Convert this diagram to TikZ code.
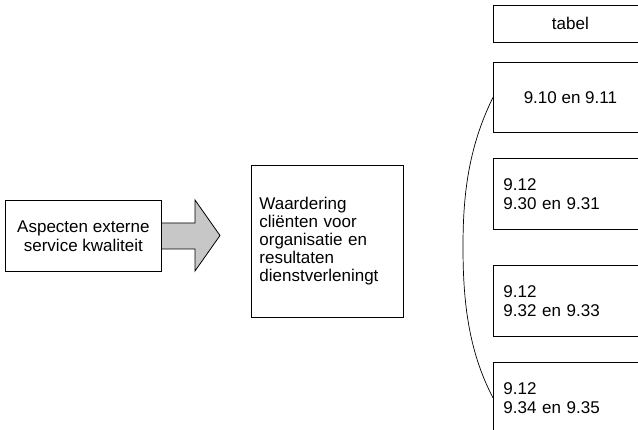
\documentclass[tikz,border=0pt]{standalone}
\usepackage{fontspec}
\setmainfont{Liberation Sans}
\begin{document}
\begin{tikzpicture}[x=1pt,y=-1pt,
  box/.style={draw=black, line width=0.8pt, inner sep=0pt, fill=white, anchor=north west},
  lbl/.style={font=\fontsize{17}{19}\selectfont},
  tablebox/.style={box, lbl, minimum width=154pt},
  leftbox/.style={tablebox, minimum height=71pt, align=left, text width=134pt, inner xsep=10pt},
  arrowfill/.style={draw=black, line width=0.8pt, fill=black!22, line join=miter},
]
\useasboundingbox (0,0) rectangle (638,430);

% input aspect and the big arrow pointing to the appreciation box
\draw[arrowfill] (161,223) -- (195,223) -- (195,200) -- (220,235.5)
  -- (195,271) -- (195,249) -- (161,249) -- cycle;
\node[box, lbl, minimum width=156pt, minimum height=71pt, align=center]
  (aspect) at (5,200) {Aspecten externe\\service kwaliteit};

% central box
\node[box, lbl, minimum width=152pt, minimum height=152pt, align=left,
  text width=136pt, inner xsep=8pt, font=\fontsize{17}{18}\selectfont]
  (waard) at (251,165)
  {Waardering\\cliënten voor\\organisatie en\\resultaten\\dienstverleningt};

% table column: only the text nodes, the frames are open to the right
\node[tablebox, draw=none, minimum height=37pt, align=center] (tabel) at (493,5) {tabel};
\node[tablebox, draw=none, minimum height=70pt, align=center] (b910) at (493,62) {9.10 en 9.11};
\node[leftbox, draw=none] (b930) at (493,158) {9.12\\9.30 en 9.31};
\node[leftbox, draw=none] (b932) at (493,265) {9.12\\9.32 en 9.33};
\node[leftbox, draw=none] (b934) at (493,362) {9.12\\9.34 en 9.35};
\foreach \n in {tabel,b910,b930,b932,b934}
  \draw[line width=0.8pt] (\n.north east) -- (\n.north west) -- (\n.south west) -- (\n.south east);

% bracket grouping the table rows
\draw[line width=0.7pt] (b910.west) .. controls (467,150) and (463,200) .. (463,247)
  .. controls (463,300) and (468,350) .. (b934.west);
\end{tikzpicture}
\end{document}
